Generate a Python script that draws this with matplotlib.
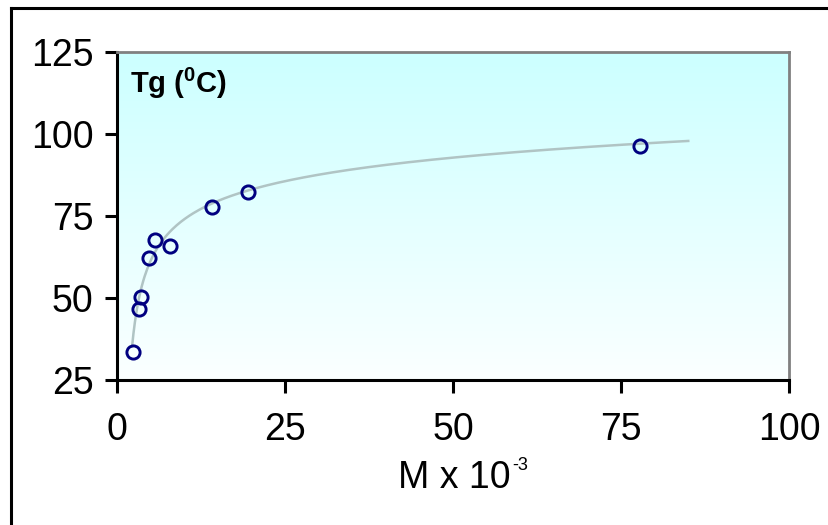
import numpy as np
import matplotlib
matplotlib.use("Agg")
import matplotlib.pyplot as plt
from matplotlib.lines import Line2D
from matplotlib.colors import LinearSegmentedColormap

plt.rcParams['font.family'] = ['Liberation Sans', 'DejaVu Sans']
plt.rcParams['mathtext.fontset'] = 'custom'
plt.rcParams['mathtext.rm'] = 'Liberation Sans'
plt.rcParams['mathtext.bf'] = 'Liberation Sans:bold'
plt.rcParams['mathtext.default'] = 'regular'

# Molecular weight (x 10^-3) and glass transition temperature (deg C)
M = [2.4, 3.2, 3.5, 4.7, 5.6, 7.9, 14.1, 19.5, 77.8]
Tg = [33.4, 46.6, 50.4, 62.3, 67.6, 65.8, 77.7, 82.2, 96.2]

# points along the smooth trend curve
trend_M = [2.2, 2.4, 3.9, 4.9, 6.1, 7.6, 10.3, 12.8, 16.8, 21.3, 27.7, 35.7, 78, 85]
trend_Tg = [33, 42.3, 54.5, 59.5, 66.2, 70.7, 75.3, 77.6, 80.9, 83.4, 86.5, 89.2, 97, 98.2]

x_ticks = [0, 25, 50, 75, 100]
y_ticks = [25, 50, 75, 100, 125]

fig = plt.figure(figsize=(8.29, 5.25), dpi=100)
W, H = 829, 525
ax = fig.add_axes([117.3 / W, 1 - 380 / H, (789 - 117.3) / W, (380 - 52) / H])

# gradient background: light cyan at the top fading to white
cmap = LinearSegmentedColormap.from_list('bg', ['#fbffff', '#ccffff'])
grad = np.linspace(0, 1, 256).reshape(-1, 1)
ax.imshow(grad, extent=[0, 100, 25, 125], origin='lower', aspect='auto',
          cmap=cmap, zorder=0, interpolation='bicubic')

# smooth trend: least squares of Tg = a + b ln M + c / M + d / M^2
tm = np.array(trend_M)
A = np.column_stack([np.ones_like(tm), np.log(tm), 1 / tm, 1 / tm ** 2])
coef, *_ = np.linalg.lstsq(A, np.array(trend_Tg), rcond=None)
xf = np.linspace(min(trend_M), max(trend_M), 400)
yf = coef[0] + coef[1] * np.log(xf) + coef[2] / xf + coef[3] / xf ** 2
ax.plot(xf, yf, color='#b0c4c4', lw=1.8, zorder=2)

ax.plot(M, Tg, linestyle='none', marker='o', markersize=9.5,
        markerfacecolor='none', markeredgecolor='#000080',
        markeredgewidth=2.1, zorder=3)

ax.set_xlim(0, 100)
ax.set_ylim(25, 125)
ax.set_xticks(x_ticks)
ax.set_yticks(y_ticks)
ax.tick_params(direction='out', length=9, width=2.2, colors='black',
               labelsize=27)
ax.tick_params(axis='y', pad=8)
ax.tick_params(axis='x', pad=14)

for side in ('left', 'bottom'):
    ax.spines[side].set_color('black')
    ax.spines[side].set_linewidth(2.2)
for side in ('top', 'right'):
    ax.spines[side].set_color('#808080')
    ax.spines[side].set_linewidth(2.0)

# x axis title with a small superscript exponent
fig.text(511 / W, 1 - 488 / H, 'M x 10', fontsize=27, ha='right', va='baseline')
fig.text(512 / W, 1 - 470 / H, '-3', fontsize=13, ha='left', va='baseline')

ax.text(0.019, 0.875, 'Tg ($\\mathbf{^{0}}$C)', transform=ax.transAxes,
        fontsize=21, fontweight='bold', va='baseline', ha='left')

# outer frame around the chart
fig.add_artist(Line2D([11 / W, 11 / W], [0, 1 - 7.5 / H], color='black',
                      lw=2.2, transform=fig.transFigure))
fig.add_artist(Line2D([11 / W, 1], [1 - 7.5 / H, 1 - 7.5 / H], color='black',
                      lw=2.2, transform=fig.transFigure))

fig.savefig('out.png', dpi=100)
